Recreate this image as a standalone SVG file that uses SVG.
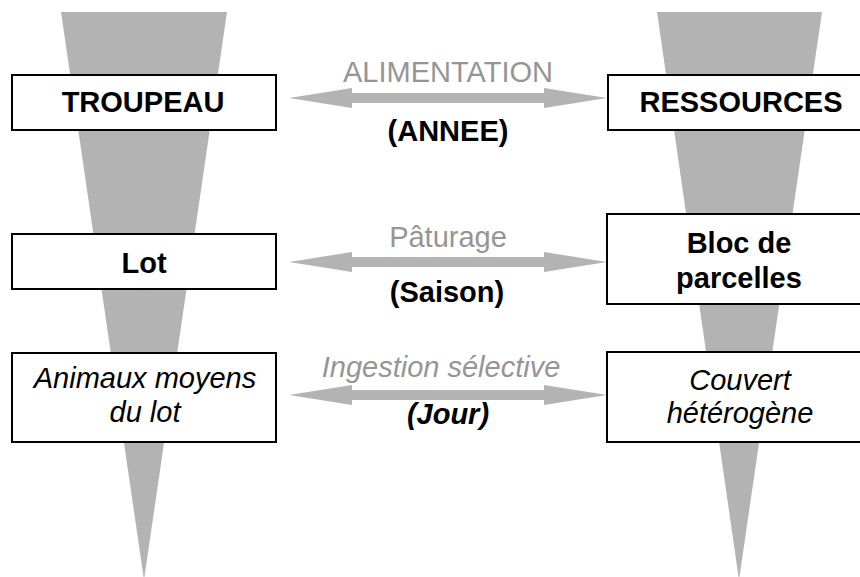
<svg xmlns="http://www.w3.org/2000/svg" xmlns:xlink="http://www.w3.org/1999/xlink" width="860" height="577" viewBox="0 0 860 577">
<style>
.tri{fill:#b3b3b3}
.box{fill:#fff;stroke:#000;stroke-width:2}
.arr{fill:#b3b3b3}
.t{font-family:"Liberation Sans",Arial,sans-serif;font-size:29px;text-anchor:middle;fill:#000}
.b{font-weight:bold}
.i{font-style:italic}
.g{fill:#959595}
</style>
<defs>
<polygon id="dbl" points="-159,0 -96,-10 -96,-5 96,-5 96,-10 159,0 96,10 96,5 -96,5 -96,10"/>
</defs>
<g id="axes">
<polygon class="tri" points="61,12 227,12 144,580"/>
<polygon class="tri" points="657,12 822,12 739,580"/>
</g>
<g id="connectors">
<use xlink:href="#dbl" class="arr" x="448" y="98"/>
<use xlink:href="#dbl" class="arr" x="448" y="262"/>
<use xlink:href="#dbl" class="arr" x="448" y="395"/>
<text class="t g" x="448" y="82">ALIMENTATION</text>
<text class="t b" x="448" y="141">(ANNEE)</text>
<text class="t g" x="448" y="247">Pâturage</text>
<text class="t b" x="447" y="302">(Saison)</text>
<text class="t g i" x="441" y="377">Ingestion sélective</text>
<text class="t b i" x="448" y="424">(Jour)</text>
</g>
<g id="troupeau">
<rect class="box" x="12" y="75" width="264" height="55"/>
<text class="t b" x="143" y="112">TROUPEAU</text>
</g>
<g id="ressources">
<rect class="box" x="608" y="75" width="264" height="55"/>
<text class="t b" x="741" y="112">RESSOURCES</text>
</g>
<g id="lot">
<rect class="box" x="12" y="234" width="264" height="55"/>
<text class="t b" x="144" y="273">Lot</text>
</g>
<g id="bloc">
<rect class="box" x="607" y="214" width="264" height="90"/>
<text class="t b" x="739" y="253">Bloc de</text>
<text class="t b" x="739" y="288">parcelles</text>
</g>
<g id="animaux">
<rect class="box" x="12" y="353" width="264" height="89"/>
<text class="t i" x="145" y="388">Animaux moyens</text>
<text class="t i" x="145" y="422">du lot</text>
</g>
<g id="couvert">
<rect class="box" x="607" y="352" width="264" height="90"/>
<text class="t i" x="740" y="390">Couvert</text>
<text class="t i" x="740" y="423">hétérogène</text>
</g>
</svg>
